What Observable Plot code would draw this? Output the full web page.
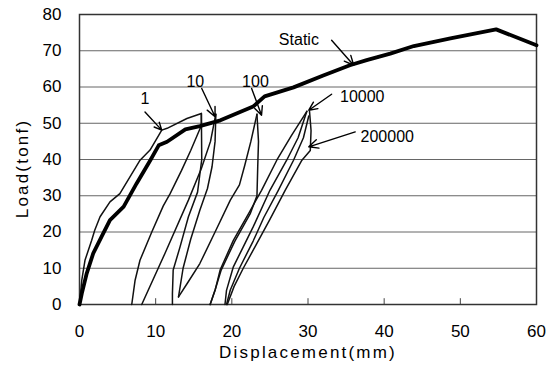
<!DOCTYPE html>
<html>
<head>
<meta charset="utf-8">
<script src="https://cdn.jsdelivr.net/npm/d3@7"></script>
<script src="https://cdn.jsdelivr.net/npm/@observablehq/plot@0.6"></script>
<style>
  html, body { margin: 0; padding: 0; background: #fff; }
  #chart { width: 556px; height: 371px; }
</style>
</head>
<body>
<div id="chart"></div>
<script>
// Axis ticks
const xTicks = [0, 10, 20, 30, 40, 50, 60];
const yTicks = [0, 10, 20, 30, 40, 50, 60, 70, 80];
const gridY = [10, 20, 30, 40, 50, 60, 70];
const innerXTicks = [10, 20, 30, 40, 50];

// Static (monotonic) loading curve — thick
const staticCurve = [[0,0],[0.3,3],[0.95,8.6],[1.8,14.1],[2.9,18.7],[4.0,23.3],[5.8,27],[7.5,33.4],[9.3,39.8],[10.4,43.9],[11.5,44.9],[13.9,48.3],[15.8,49.2],[18.5,50.8],[22.8,54.6],[24.3,57.4],[28.1,59.9],[32.0,63.2],[35.5,66.0],[37.7,67.4],[40.8,69.2],[43.9,71.3],[48.7,73.4],[54.7,75.9],[60,71.5]];

// Cyclic curves — thin
const cycle1Load   = [[0,0],[0.3,6.7],[0.72,12.2],[1.6,17.7],[2.0,20.5],[2.7,24.2],[4.0,28.3],[5.3,30.6],[7.95,39.8],[9.26,42.6],[10.8,48.1],[11.5,48.6],[14.1,51.3],[16.0,52.7]];
const cycle1Back   = [[6.86,0],[7.3,6.7],[7.94,12.2],[9.49,20],[11.0,27.2],[11.9,30.6],[13.4,37],[14.6,42.5],[16.0,49.4],[16.0,52.7]];
const cycle1Unload = [[16.0,52.7],[16.05,40],[15.5,31],[14.3,24.2],[13.2,15.9],[12.3,9.5],[12.2,3],[12.2,0]];
const cycle10Load  = [[8.17,0],[11.2,14],[14.3,28.8],[16.0,37.5],[17.2,45],[17.9,52.5]];
const cycle10Unload= [[17.9,52.5],[17.8,45],[17.4,38],[16.8,32],[15.8,26],[14.6,18],[13.6,10],[13.0,2.1]];
const cycle100Load = [[13.0,2.1],[14.2,6],[15.8,11.3],[17.8,20],[19.8,28.8],[21.0,33],[21.7,38.4],[22.5,45],[23.3,52.5]];
const cycle100Unload=[[23.3,52.5],[23.5,45],[23.4,38],[23.3,30],[22.4,25],[20.4,17.5],[18.6,9.5],[17.8,4],[17.15,0]];
const cycle1e4Load = [[17.15,0],[17.8,3.9],[18.46,9.5],[20.2,17.7],[22.2,25.1],[23.9,31.5],[25.9,39.8],[27.8,46.5],[29.85,53.3]];
const cycle2e5Load = [[19.1,0],[19.3,3.9],[20.2,10.4],[21.5,15.9],[22.8,21.4],[25.0,31.5],[27.2,39.8],[28.7,46],[29.85,53.3]];
const cycle2e5Unload=[[19.3,0],[19.8,4],[21.0,10],[22.8,17.5],[24.2,24],[26.1,31.5],[28.1,39.8],[29.4,46],[30.1,52]];
const cycle1e4Unload=[[19.4,0],[20.3,5],[21.5,10],[23.2,16.5],[25.0,23.5],[27.0,31.5],[29.2,39.8],[30.3,42.5],[30.4,48],[30.2,53.3]];

const thinCurves = [cycle1Load, cycle1Back, cycle1Unload, cycle10Load, cycle10Unload, cycle100Load, cycle100Unload, cycle1e4Load, cycle2e5Load, cycle2e5Unload, cycle1e4Unload];

// Annotations
const labelText = ["1", "10", "100", "Static", "10000", "200000"];
const labelX    = [8.6, 15.2, 23.1, 28.8, 34.2, 36.9];
const labelY    = [56.8, 61.4, 61.4, 72.9, 57.3, 46.2];
const labelAnchor = ["middle", "middle", "middle", "middle", "start", "start"];
const arrowX1 = [8.6, 16.05, 22.6, 33.1, 33.1, 36.2];
const arrowY1 = [53.1, 59.6, 59.6, 72.9, 58.0, 47.6];
const arrowX2 = [10.8, 17.8, 23.9, 36.0, 30.1, 30.1];
const arrowY2 = [48.1, 51.8, 52.2, 66.0, 53.6, 43.5];

const xTitle = "Displacement(mm)";
const yTitle = "Load(tonf)";

const thinData = thinCurves.flatMap((c, i) => c.map(([x, y]) => ({x, y, id: i})));
const staticData = staticCurve.map(([x, y]) => ({x, y}));
const labels = labelText.map((t, i) => ({t, x: labelX[i], y: labelY[i], a: labelAnchor[i]}));
const arrows = arrowX1.map((x1, i) => ({x1, y1: arrowY1[i], x2: arrowX2[i], y2: arrowY2[i]}));

const font = "Liberation Sans, Arial, sans-serif";

const chart = Plot.plot({
  width: 556,
  height: 371,
  marginLeft: 79,
  marginRight: 20,
  marginTop: 14,
  marginBottom: 67,
  style: {fontFamily: font, background: "#fff", color: "#000"},
  x: {domain: [0, 60], ticks: xTicks},
  y: {domain: [0, 80], ticks: yTicks},
  marks: [
    Plot.ruleY(gridY, {stroke: "#666", strokeWidth: 1}),
    Plot.ruleX(innerXTicks, {y1: 0, y2: 1.6, stroke: "#444", strokeWidth: 1}),
    Plot.frame({stroke: "#333", strokeWidth: 1.5}),
    Plot.axisX({ticks: xTicks, tickSize: 0, tickPadding: 20, fontSize: 17, label: null}),
    Plot.axisY({ticks: yTicks, tickSize: 0, tickPadding: 18, fontSize: 17, label: null}),
    Plot.line(thinData, {x: "x", y: "y", z: "id", stroke: "#111", strokeWidth: 1.5, curve: "linear"}),
    Plot.line(staticData, {x: "x", y: "y", stroke: "#000", strokeWidth: 3.8, strokeLinejoin: "round"}),
    Plot.arrow(arrows, {x1: "x1", y1: "y1", x2: "x2", y2: "y2", stroke: "#000", strokeWidth: 1.4, headLength: 11, headAngle: 50}),
    Plot.text(labels, {x: "x", y: "y", text: "t", textAnchor: "start", fontSize: 16, fill: "#000", filter: d => d.a === "start"}),
    Plot.text(labels, {x: "x", y: "y", text: "t", textAnchor: "middle", fontSize: 16, fill: "#000", filter: d => d.a === "middle"}),
    Plot.text([xTitle], {frameAnchor: "bottom", textAnchor: "middle", lineAnchor: "middle", dy: 48, fontSize: 17, fill: "#000"}),
    Plot.text([yTitle], {frameAnchor: "left", textAnchor: "middle", lineAnchor: "middle", dx: -57, dy: 9, rotate: -90, fontSize: 17, fill: "#000"})
  ]
});
// widen the axis titles' letter spacing to match the reference
d3.select(chart).selectAll("text").each(function () {
  const t = this.textContent;
  if (t === xTitle || t === yTitle) this.style.letterSpacing = "2.2px";
});
document.getElementById("chart").appendChild(chart);
</script>
</body>
</html>
